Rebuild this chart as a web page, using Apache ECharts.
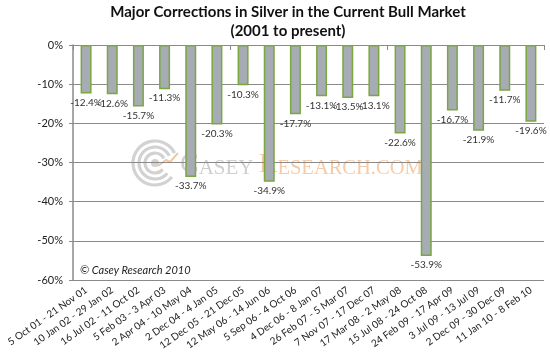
<!DOCTYPE html>
<html><head><meta charset="utf-8">
<script src="https://cdn.jsdelivr.net/npm/echarts@6/dist/echarts.min.js"></script>
<style>html,body{margin:0;padding:0;background:#fff}#c{width:550px;height:359px}</style>
</head><body><div id="c"></div>
<script>
const categories = ["5 Oct 01 - 21 Nov 01","10 Jan 02 - 29 Jan 02","16 Jul 02 - 11 Oct 02","5 Feb 03 - 3 Apr 03","2 Apr 04 - 10 May 04","2 Dec 04 - 4 Jan 05","12 Dec 05 - 21 Dec 05","12 May 06 - 14 Jun 06","5 Sep 06 - 4 Oct 06","4 Dec 06 - 8 Jan 07","26 Feb 07 - 5 Mar 07","7 Nov 07 - 17 Dec 07","17 Mar 08 - 2 May 08","15 Jul 08 - 24 Oct 08","24 Feb 09 - 17 Apr 09","3 Jul 09 - 13 Jul 09","2 Dec 09 - 30 Dec 09","11 Jan 10 - 8 Feb 10"];
const corrections = [-12.4,-12.6,-15.7,-11.3,-33.7,-20.3,-10.3,-34.9,-17.7,-13.1,-13.5,-13.1,-22.6,-53.9,-16.7,-21.9,-11.7,-19.6];
const yTicks = {min:-60, max:0, interval:10};
const titleLines = ["Major Corrections in Silver in the Current Bull Market","(2001 to present)"];
const copyright = "© Casey Research 2010";

const chart = echarts.init(document.getElementById('c'), null, {renderer:'canvas'});
const font = 'Lato, "Open Sans", sans-serif';
const serif = '"Liberation Serif", "DejaVu Serif", serif';
const gridCol = '#8a8a8a';
const ring = '#d2d2d2';
const arcs = [22, 16, 10].map(r => ({type:'arc', shape:{cx:155, cy:163, r:r, startAngle:Math.PI*0.22, endAngle:Math.PI*1.85, clockwise:true},
  style:{fill:'none', stroke:ring, lineWidth:3.2}}));
chart.setOption({
  animation:false,
  title:{text:titleLines.join('\n'), left:283, textAlign:'center', top:-2,
    textStyle:{fontFamily:font, fontWeight:'bold', fontSize:15, lineHeight:19, color:'#111'}},
  grid:{left:73, right:6, top:45, bottom:79, containLabel:false},
  xAxis:[{
    type:'category', data:categories, position:'bottom',
    axisLine:{show:true, lineStyle:{color:gridCol, width:1}},
    axisTick:{show:false},
    axisLabel:{rotate:35, interval:0, fontFamily:font, fontSize:10, color:'#222', margin:9}
  },{
    type:'category', data:categories, position:'top',
    axisLine:{show:true, lineStyle:{color:gridCol, width:1}},
    axisTick:{show:true, inside:true, length:5, lineStyle:{color:gridCol}},
    axisLabel:{show:false}
  }],
  yAxis:{type:'value', min:yTicks.min, max:yTicks.max, interval:yTicks.interval,
    axisLine:{show:true, lineStyle:{color:gridCol, width:1.5}},
    axisTick:{show:true, length:4, lineStyle:{color:gridCol}},
    splitLine:{show:true, lineStyle:{color:gridCol, width:1}},
    axisLabel:{formatter:v=>v+'%', fontFamily:font, fontSize:11, color:'#222', margin:10}
  },
  graphic:[
    {type:'group', z:0, silent:true, children:arcs.concat([
      {type:'circle', shape:{cx:155, cy:163, r:4}, style:{fill:ring}},
      {type:'polyline', shape:{points:[[158,166],[166,160],[170,162],[178,153]]}, style:{fill:'none', stroke:'#f3c7a2', lineWidth:2}},
      {type:'text', left:180, top:151, style:{
        text:'{a|C}{b|ASEY }{c|R}{d|ESEARCH.COM}',
        rich:{
          a:{fontFamily:serif, fontSize:28, fill:'#cfcfcf', verticalAlign:'bottom'},
          b:{fontFamily:serif, fontSize:21, fill:'#cfcfcf', verticalAlign:'bottom'},
          c:{fontFamily:serif, fontSize:28, fill:'#f6cba8', verticalAlign:'bottom'},
          d:{fontFamily:serif, fontSize:20.5, fill:'#f6cba8', verticalAlign:'bottom'}
        }}},
      {type:'text', left:80, top:265, style:{text:copyright, fontFamily:font, fontStyle:'italic', fontSize:11, fill:'#222'}}
    ])}
  ],
  series:[{
    type:'bar', data:corrections, barWidth:11, xAxisIndex:0, z:3,
    itemStyle:{color:'#a7abb4', borderColor:'#7aa83e', borderWidth:1.5},
    label:{show:true, position:'bottom', distance:4, formatter:p=>p.value.toFixed(1)+'%',
      fontFamily:font, fontSize:10, color:'#333'}
  }]
});
</script></body></html>
